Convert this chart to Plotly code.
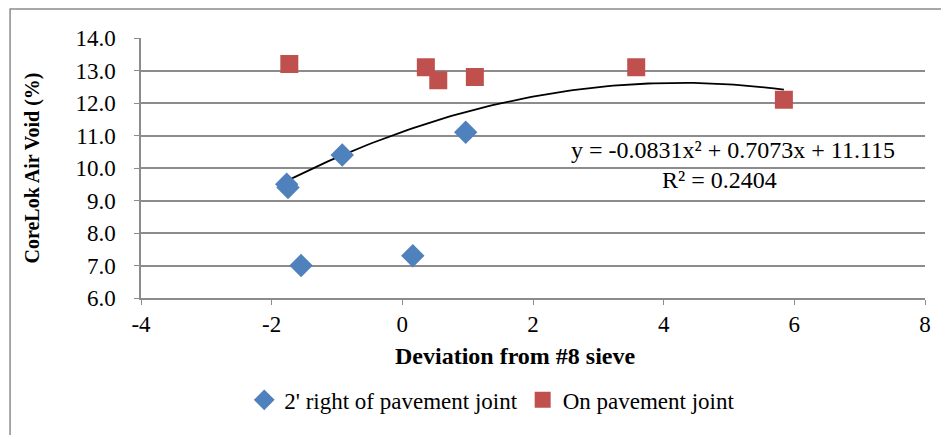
import plotly.graph_objects as go
import numpy as np

# 2' right of pavement joint
right_x = [-1.77, -1.75, -1.55, -0.92, 0.16, 0.97]
right_y = [9.5, 9.4, 7.0, 10.4, 7.3, 11.1]

# on pavement joint
joint_x = [-1.73, 0.36, 0.55, 1.11, 3.58, 5.84]
joint_y = [13.2, 13.1, 12.7, 12.8, 13.1, 12.1]

# axis ticks
x_ticks = [-4, -2, 0, 2, 4, 6, 8]
x_tick_text = ["-4", "-2", "0", "2", "4", "6", "8"]

# polynomial trendline coefficients (Excel label)
coef = [-0.0831, 0.7073, 11.115]
r2 = 0.2404

serif = "Liberation Serif"
grey = "#8c8c8c"

all_x = right_x + joint_x
tx = np.linspace(min(all_x), max(all_x), 100)
ty = np.polyval(coef, tx)

fig = go.Figure()

fig.add_trace(go.Scatter(
    x=tx, y=ty, mode="lines",
    line=dict(color="black", width=1.8),
    showlegend=False, hoverinfo="skip",
))

fig.add_trace(go.Scatter(
    x=right_x, y=right_y, mode="markers",
    name="2' right of pavement joint",
    marker=dict(symbol="diamond", size=18, color="#4F81BD"),
))

fig.add_trace(go.Scatter(
    x=joint_x, y=joint_y, mode="markers",
    name="On pavement joint",
    marker=dict(symbol="square", size=18, color="#C0504D"),
))

fig.add_annotation(
    x=5.06, y=10.55, xref="x", yref="y", showarrow=False,
    text="y = -0.0831x² + 0.7073x + 11.115",
    font=dict(family=serif, size=24, color="black"),
)
fig.add_annotation(
    x=4.86, y=9.63, xref="x", yref="y", showarrow=False,
    text="R² = %.4f" % r2,
    font=dict(family=serif, size=24, color="black"),
)
# x axis title (sits a little left of the plot centre in the original)
fig.add_annotation(
    x=0.478, y=-0.223, xref="paper", yref="paper", showarrow=False,
    xanchor="center", yanchor="middle",
    text="<b>Deviation from #8 sieve</b>",
    font=dict(family=serif, size=24, color="black"),
)

# outer chart frame
fig.add_shape(
    type="rect", xref="paper", yref="paper",
    x0=-0.167, x1=1.1, y0=-0.6, y1=1.112,
    line=dict(color=grey, width=1.5),
)

fig.update_layout(
    width=941, height=427,
    margin=dict(l=133, r=24, t=30, b=137),
    plot_bgcolor="white",
    paper_bgcolor="white",
    font=dict(family=serif, size=23, color="black"),
    xaxis=dict(
        range=[-4, 8], tickvals=x_ticks, ticktext=x_tick_text,
        showgrid=False, zeroline=False,
        showline=True, linecolor=grey, linewidth=1.5,
        ticks="outside", ticklen=5, tickcolor=grey,
        ticklabelstandoff=0,
        tickfont=dict(family=serif, size=23, color="black"),
    ),
    yaxis=dict(
        range=[6, 14], dtick=1, tickformat=".1f",
        showgrid=True, gridcolor=grey, gridwidth=1.5, zeroline=False,
        showline=True, linecolor=grey, linewidth=1.5,
        ticks="outside", ticklen=5, tickcolor=grey,
        ticklabelstandoff=14,
        tickfont=dict(family=serif, size=23, color="black"),
        title=dict(text="<b>CoreLok Air Void (%)</b>", standoff=30,
                   font=dict(family=serif, size=20, color="black")),
    ),
    legend=dict(
        orientation="h", x=0.448, xanchor="center", y=-0.392, yanchor="middle",
        font=dict(family=serif, size=23, color="black"), itemwidth=30,
    ),
)

fig.write_html("out.html")
